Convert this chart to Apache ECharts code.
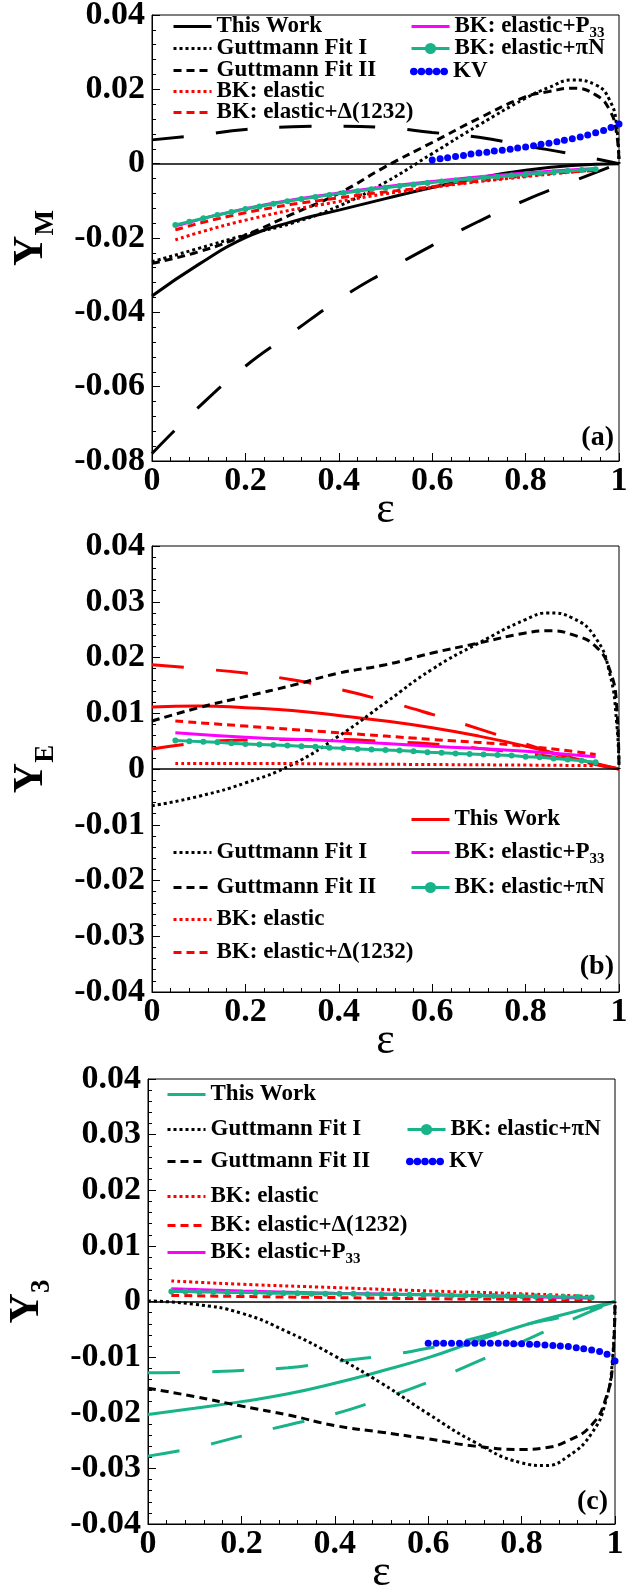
<!DOCTYPE html>
<html>
<head>
<meta charset="utf-8">
<script src="https://cdn.jsdelivr.net/npm/echarts@6/dist/echarts.min.js"></script>
<style>
html, body { margin: 0; padding: 0; background: #fff; }
#chart { width: 626px; height: 1592px; }
</style>
</head>
<body>
<div id="chart"></div>
<script>
// epsilon grids the curves were read at
const epsFull = [0, 0.1, 0.2, 0.3, 0.4, 0.5, 0.6, 0.7, 0.8, 0.9, 1.0];
const epsGutt = [0, 0.1, 0.2, 0.3, 0.4, 0.5, 0.6, 0.7, 0.8, 0.85, 0.9, 0.95, 0.98, 0.995, 1.0];
const epsBK = [0.05, 0.2, 0.4, 0.6, 0.8, 0.95];
const epsPiN = [0.05, 0.08, 0.11, 0.14, 0.17, 0.20, 0.23, 0.26, 0.29, 0.32, 0.35, 0.38, 0.41, 0.44, 0.47, 0.50,
                0.53, 0.56, 0.59, 0.62, 0.65, 0.68, 0.71, 0.74, 0.77, 0.80, 0.83, 0.86, 0.89, 0.92, 0.95];
const epsKV = [0.600, 0.617, 0.633, 0.650, 0.667, 0.683, 0.700, 0.717, 0.733, 0.750, 0.767, 0.783, 0.800,
               0.817, 0.833, 0.850, 0.867, 0.883, 0.900, 0.917, 0.933, 0.950, 0.967, 0.983, 1.000];

// (a) Y_M
const ymThisWork = [-0.0356, -0.0271, -0.0199, -0.0156, -0.0125, -0.0094, -0.0064, -0.0038, -0.0018, -0.0005, 0];
const ymBandHi = [0.0064, 0.0077, 0.0092, 0.0099, 0.0101, 0.0097, 0.0084, 0.0071, 0.0048, 0.0026, 0];
const ymBandLo = [-0.078, -0.0655, -0.0545, -0.0455, -0.0366, -0.029, -0.022, -0.0155, -0.0098, -0.0048, 0];
const ymGuttI = [-0.0264, -0.0228, -0.0192, -0.016, -0.0114, -0.005, 0.0027, 0.0104, 0.0176, 0.0205, 0.0225, 0.0212, 0.0171, 0.010, 0];
const ymGuttII = [-0.0268, -0.0237, -0.0192, -0.0136, -0.008, -0.0008, 0.0057, 0.0122, 0.018, 0.0194, 0.0203, 0.0185, 0.0144, 0.008, 0];
const ymElastic = [-0.0205, -0.0152, -0.0102, -0.0064, -0.0035, -0.0017];
const ymDelta = [-0.0178, -0.0132, -0.0092, -0.0062, -0.0033, -0.0018];
const ymP33 = [-0.0168, -0.0121, -0.0079, -0.0048, -0.0025, -0.0013];
const ymPiN = [-0.0165, -0.0156, -0.0147, -0.0138, -0.0130, -0.0122, -0.0115, -0.0108, -0.0101, -0.0095, -0.0090,
               -0.0084, -0.0079, -0.0074, -0.0069, -0.0065, -0.0060, -0.0056, -0.0052, -0.0048, -0.0045, -0.0041,
               -0.0038, -0.0035, -0.0032, -0.0029, -0.0026, -0.0023, -0.0020, -0.0017, -0.0015];
const ymKV = [0.0010, 0.0013, 0.0016, 0.0019, 0.0022, 0.0026, 0.0029, 0.0031, 0.0034, 0.0036, 0.0039, 0.0042, 0.0045,
              0.0048, 0.0052, 0.0055, 0.0059, 0.0063, 0.0067, 0.0072, 0.0077, 0.0083, 0.0089, 0.0097, 0.0107];

// (b) Y_E
const yeThisWork = [0.0111, 0.0113, 0.011, 0.0105, 0.0096, 0.0086, 0.0074, 0.0059, 0.0041, 0.002, 0];
const yeBandHi = [0.0187, 0.018, 0.0172, 0.016, 0.0143, 0.0122, 0.0098, 0.0072, 0.0045, 0.0018, 0];
const yeBandLo = [0.0036, 0.0047, 0.0052, 0.0053, 0.0053, 0.0049, 0.0045, 0.0037, 0.0028, 0.0016, 0];
const yeGuttI = [-0.0066, -0.0049, -0.0025, 0.0008, 0.0059, 0.0119, 0.0179, 0.0226, 0.0268, 0.028, 0.0271, 0.0235, 0.0172, 0.0083, 0];
const yeGuttII = [0.0086, 0.011, 0.013, 0.015, 0.0172, 0.0187, 0.0208, 0.0226, 0.0244, 0.0248, 0.0241, 0.022, 0.0178, 0.0113, 0];
const yeElastic = [0.0010, 0.0010, 0.0009, 0.0008, 0.0007, 0.0006];
const yeDelta = [0.0086, 0.0077, 0.0065, 0.0053, 0.0041, 0.0026];
const yeP33 = [0.0065, 0.0057, 0.0050, 0.0041, 0.0032, 0.0022];
const yePiN = [0.0051, 0.0050, 0.0049, 0.0048, 0.0046, 0.0045, 0.0044, 0.0043, 0.0042, 0.0041, 0.0040, 0.0038,
               0.0037, 0.0036, 0.0035, 0.0034, 0.0033, 0.0032, 0.0030, 0.0029, 0.0028, 0.0027, 0.0026, 0.0025,
               0.0024, 0.0022, 0.0021, 0.0019, 0.0017, 0.0015, 0.0012];

// (c) Y_3
const y3ThisWork = [-0.0203, -0.0192, -0.018, -0.0166, -0.0147, -0.0125, -0.0101, -0.0072, -0.0044, -0.0021, 0];
const y3BandHi = [-0.0128, -0.0127, -0.0124, -0.0119, -0.0108, -0.0098, -0.0084, -0.0066, -0.0043, -0.0025, 0];
const y3BandLo = [-0.0278, -0.0263, -0.0242, -0.0222, -0.0202, -0.0175, -0.0145, -0.011, -0.0073, -0.0035, 0];
const y3GuttI = [0.0001, -0.0005, -0.0021, -0.0055, -0.0098, -0.0147, -0.0202, -0.0253, -0.029, -0.0295, -0.0278, -0.0237, -0.018, -0.010, 0];
const y3GuttII = [-0.0156, -0.0171, -0.0188, -0.0204, -0.0223, -0.0235, -0.0247, -0.026, -0.0266, -0.0263, -0.025, -0.0222, -0.0175, -0.011, 0];
const y3Elastic = [0.0037, 0.0031, 0.0025, 0.0019, 0.0014, 0.0009];
const y3Delta = [0.0011, 0.0009, 0.0007, 0.0005, 0.0004, 0.0003];
const y3P33 = [0.0023, 0.0019, 0.0015, 0.0012, 0.0009, 0.0006];
const y3PiN = [0.0018, 0.0018, 0.0017, 0.0017, 0.0016, 0.0016, 0.0016, 0.0015, 0.0015, 0.0015, 0.0014, 0.0014,
               0.0014, 0.0014, 0.0013, 0.0013, 0.0013, 0.0012, 0.0012, 0.0012, 0.0011, 0.0011, 0.0011, 0.0010,
               0.0010, 0.0010, 0.0009, 0.0009, 0.0008, 0.0008, 0.0007];
const y3KV = [-0.0075, -0.0075, -0.0075, -0.0075, -0.0075, -0.0075, -0.0075, -0.0075, -0.0075, -0.0075, -0.0075,
              -0.0076, -0.0076, -0.0077, -0.0077, -0.0078, -0.0079, -0.0080, -0.0081, -0.0083, -0.0085, -0.0087,
              -0.0090, -0.0095, -0.0107];

const FONT = 'Liberation Serif';
const BLACK = '#000000', RED = '#ff0000', MAGENTA = '#ff00ff', GREEN = '#19b38a', BLUE = '#0000ff';
const DOT = [3, 3], DASH = [8, 5], LONG = [32, 32];
const KV_ICON = 'path://M0,4a4,4 0 1,0 8,0a4,4 0 1,0 -8,0M8,4a4,4 0 1,0 8,0a4,4 0 1,0 -8,0' +
    'M16,4a4,4 0 1,0 8,0a4,4 0 1,0 -8,0M24,4a4,4 0 1,0 8,0a4,4 0 1,0 -8,0M32,4a4,4 0 1,0 8,0a4,4 0 1,0 -8,0';

function zip(xs, ys) {
    return xs.map((x, i) => [x, ys[i]]);
}

function line(name, gi, xs, ys, color, dash, extra = {}) {
    const s = {
        type: 'line', name: name, xAxisIndex: gi, yAxisIndex: gi,
        data: zip(xs, ys),
        symbol: 'none', smooth: 0.5,
        lineStyle: { color: color, width: 3, type: dash || 'solid', cap: 'butt' },
        itemStyle: { color: color },
        emphasis: { disabled: true },
        animation: false
    };
    return Object.assign(s, extra);
}

function zeroLine() {
    return {
        silent: true, symbol: 'none', label: { show: false },
        lineStyle: { color: '#000', width: 1.5, type: 'solid' },
        data: [{ yAxis: 0 }]
    };
}

function piN(name, gi, ys) {
    return line(name, gi, epsPiN, ys, GREEN, 'solid', { smooth: false, symbol: 'circle', symbolSize: 6, showSymbol: true });
}

function kv(name, gi, ys) {
    return line(name, gi, epsKV, ys, BLUE, 'solid', {
        smooth: false, symbol: 'circle', symbolSize: 7, showSymbol: true,
        lineStyle: { color: BLUE, width: 0, opacity: 0 }
    });
}

const series = [
    // (a)
    line('This Work#a', 0, epsFull, ymThisWork, BLACK, 'solid', { markLine: zeroLine(), z: 3 }),
    line('band hi#a', 0, epsFull, ymBandHi, BLACK, LONG),
    line('band lo#a', 0, epsFull, ymBandLo, BLACK, LONG),
    line('Guttmann Fit I#a', 0, epsGutt, ymGuttI, BLACK, DOT),
    line('Guttmann Fit II#a', 0, epsGutt, ymGuttII, BLACK, DASH),
    line('BK: elastic#a', 0, epsBK, ymElastic, RED, DOT),
    line('BK: elastic+Δ(1232)#a', 0, epsBK, ymDelta, RED, DASH),
    line('BK: elastic+P33#a', 0, epsBK, ymP33, MAGENTA, 'solid'),
    piN('BK: elastic+πN#a', 0, ymPiN),
    kv('KV#a', 0, ymKV),
    // (b)
    line('This Work#b', 1, epsFull, yeThisWork, RED, 'solid', { markLine: zeroLine(), z: 3 }),
    line('band hi#b', 1, epsFull, yeBandHi, RED, LONG),
    line('band lo#b', 1, epsFull, yeBandLo, RED, LONG),
    line('Guttmann Fit I#b', 1, epsGutt, yeGuttI, BLACK, DOT),
    line('Guttmann Fit II#b', 1, epsGutt, yeGuttII, BLACK, DASH),
    line('BK: elastic#b', 1, epsBK, yeElastic, RED, DOT),
    line('BK: elastic+Δ(1232)#b', 1, epsBK, yeDelta, RED, DASH),
    line('BK: elastic+P33#b', 1, epsBK, yeP33, MAGENTA, 'solid'),
    piN('BK: elastic+πN#b', 1, yePiN),
    // (c)
    line('This Work#c', 2, epsFull, y3ThisWork, GREEN, 'solid', { markLine: zeroLine(), z: 3 }),
    line('band hi#c', 2, epsFull, y3BandHi, GREEN, LONG),
    line('band lo#c', 2, epsFull, y3BandLo, GREEN, LONG),
    line('Guttmann Fit I#c', 2, epsGutt, y3GuttI, BLACK, DOT),
    line('Guttmann Fit II#c', 2, epsGutt, y3GuttII, BLACK, DASH),
    line('BK: elastic#c', 2, epsBK, y3Elastic, RED, DOT),
    line('BK: elastic+Δ(1232)#c', 2, epsBK, y3Delta, RED, DASH),
    line('BK: elastic+P33#c', 2, epsBK, y3P33, MAGENTA, 'solid'),
    piN('BK: elastic+πN#c', 2, y3PiN),
    kv('KV#c', 2, y3KV)
];

// panel frames
const grids = [
    { left: 152, top: 15, width: 467, height: 446 },
    { left: 152, top: 546, width: 467, height: 446 },
    { left: 148, top: 1079, width: 467, height: 445 }
].map(g => Object.assign({ show: true, borderColor: '#000', borderWidth: 1, backgroundColor: 'transparent', outerBoundsMode: 'none' }, g));

const tickStyle = { color: '#000', width: 1 };

function xAxis(gi) {
    return {
        type: 'value', gridIndex: gi, min: 0, max: 1, interval: 0.2,
        axisLine: { show: true, onZero: false, lineStyle: tickStyle },
        axisTick: { inside: true, length: 8, lineStyle: tickStyle },
        minorTick: { show: true, splitNumber: 5, length: 4, lineStyle: tickStyle },
        splitLine: { show: false },
        axisLabel: {
            margin: 3, fontFamily: FONT, fontWeight: 'bold', fontSize: 34, color: '#000',
            showMinLabel: true, showMaxLabel: true,
            formatter: v => String(+v.toFixed(1))
        },
        name: 'ε', nameLocation: 'middle', nameGap: 27, nameMoveOverlap: false,
        nameTextStyle: { fontFamily: FONT, fontSize: 44, color: '#000' }
    };
}

function yAxis(gi, min, max, interval, sub) {
    return {
        type: 'value', gridIndex: gi, min: min, max: max, interval: interval,
        axisLine: { show: true, onZero: false, lineStyle: tickStyle },
        axisTick: { inside: true, length: 8, lineStyle: tickStyle },
        minorTick: { show: true, splitNumber: 5, length: 4, lineStyle: tickStyle },
        splitLine: { show: false },
        axisLabel: {
            margin: 7, fontFamily: FONT, fontWeight: 'bold', fontSize: 34, color: '#000',
            showMinLabel: true, showMaxLabel: true,
            formatter: v => String(+v.toFixed(2))
        },
        name: '{y|Y}{s|' + sub + '}', nameLocation: 'middle', nameRotate: 90, nameGap: 92, nameMoveOverlap: false,
        nameTextStyle: {
            rich: {
                y: { fontFamily: FONT, fontWeight: 'bold', fontSize: 42, color: '#000' },
                s: { fontFamily: FONT, fontWeight: 'bold', fontSize: 27, color: '#000', padding: [30, 0, 0, 0] }
            }
        }
    };
}

// legend slots: [series name, icon left, row centre y]
const legendSlots = [
    ['This Work#a', 172, 27], ['Guttmann Fit I#a', 172, 49], ['Guttmann Fit II#a', 172, 71],
    ['BK: elastic#a', 172, 92], ['BK: elastic+Δ(1232)#a', 172, 113],
    ['BK: elastic+P33#a', 410, 27], ['BK: elastic+πN#a', 410, 49], ['KV#a', 410, 72],
    ['This Work#b', 410, 820], ['Guttmann Fit I#b', 172, 853], ['Guttmann Fit II#b', 172, 888],
    ['BK: elastic#b', 172, 920], ['BK: elastic+Δ(1232)#b', 172, 953],
    ['BK: elastic+P33#b', 410, 853], ['BK: elastic+πN#b', 410, 888],
    ['This Work#c', 166, 1095], ['Guttmann Fit I#c', 166, 1130], ['Guttmann Fit II#c', 166, 1162],
    ['BK: elastic#c', 166, 1197], ['BK: elastic+Δ(1232)#c', 166, 1226], ['BK: elastic+P33#c', 166, 1253],
    ['BK: elastic+πN#c', 406, 1130], ['KV#c', 406, 1162]
];

const legendRich = {
    n: { fontFamily: FONT, fontWeight: 'bold', fontSize: 23, color: '#000', lineHeight: 24 },
    s: { fontFamily: FONT, fontWeight: 'bold', fontSize: 15, color: '#000', padding: [14, 0, 0, 0] }
};

const legends = legendSlots.map(([name, left, y]) => {
    const isKV = name.startsWith('KV');
    const hasDots = isKV || name.includes('πN');
    return {
        left: left, top: y - 12, orient: 'vertical', selectedMode: false,
        itemWidth: 38, itemHeight: isKV ? 8 : 14, itemGap: 0, padding: 0,
        data: [isKV ? { name: name, icon: KV_ICON } : { name: name }],
        itemStyle: hasDots ? {} : { opacity: 0 },
        lineStyle: { width: 3 },
        formatter: n => {
            const base = n.split('#')[0];
            if (base.endsWith('P33')) return '{n|BK: elastic+P}{s|33}';
            return '{n|' + base + '}';
        },
        textStyle: { fontFamily: FONT, fontWeight: 'bold', fontSize: 23, color: '#000', rich: legendRich }
    };
});

const panelLabels = [['(a)', 424], ['(b)', 953], ['(c)', 1488]];

const chart = echarts.init(document.getElementById('chart'), null, { renderer: 'canvas' });
chart.setOption({
    backgroundColor: '#fff',
    animation: false,
    grid: grids,
    xAxis: [xAxis(0), xAxis(1), xAxis(2)],
    yAxis: [
        yAxis(0, -0.08, 0.04, 0.02, 'M'),
        yAxis(1, -0.04, 0.04, 0.01, 'E'),
        yAxis(2, -0.04, 0.04, 0.01, '3')
    ],
    legend: legends,
    graphic: panelLabels.map(([t, top], i) => ({
        type: 'text', right: i === 2 ? 18 : 12, top: top,
        style: { text: t, fontFamily: FONT, fontWeight: 'bold', fontSize: 28, fill: '#000' }
    })),
    series: series
});
</script>
</body>
</html>
